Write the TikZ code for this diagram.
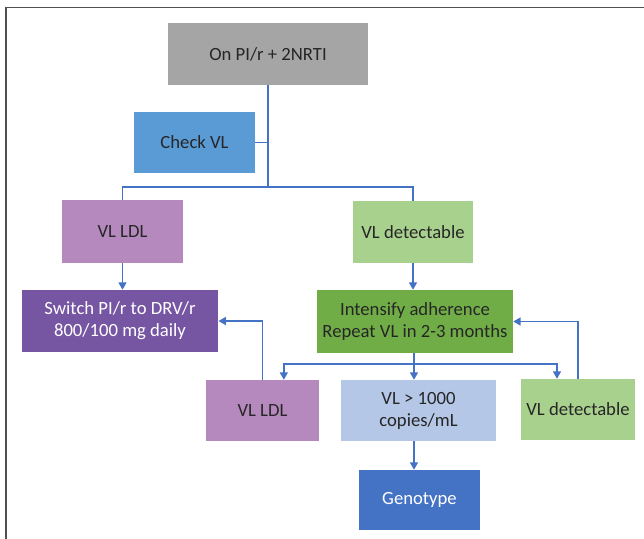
\documentclass[tikz,border=0pt]{standalone}
\usepackage{fontspec}
\setmainfont{Carlito}
\usetikzlibrary{arrows.meta}
\definecolor{cgray}{HTML}{A5A5A5}
\definecolor{ccheck}{HTML}{5B9BD5}
\definecolor{cldl}{HTML}{B589BD}
\definecolor{cdet}{HTML}{A9D18E}
\definecolor{cswitch}{HTML}{7655A3}
\definecolor{cint}{HTML}{70AD47}
\definecolor{cvl}{HTML}{B4C7E7}
\definecolor{cgeno}{HTML}{4472C4}
\definecolor{cline}{HTML}{4472C4}
\definecolor{ctext}{HTML}{262626}
\definecolor{cframe}{HTML}{505050}
\begin{document}
\begin{tikzpicture}[x=0.75pt,y=-0.75pt,
  box/.style={draw=none, inner sep=0pt, align=center, text=ctext,
    font=\fontsize{14}{16.5}\selectfont},
  conn/.style={draw=cline, line width=1pt},
  arr/.style={conn, -{Triangle[length=5.5pt,width=6pt]}}]
\useasboundingbox (0,0) rectangle (644,539);
\draw[cframe, line width=1.1pt] (6,539) -- (6,7.5) -- (644,7.5);

\node[box, fill=cgray, minimum width=150pt, minimum height=46.5pt] (top) at (268,54) {On PI/r + 2NRTI};
\node[box, fill=ccheck, minimum width=90.75pt, minimum height=45.75pt] (check) at (194.5,142.5) {Check VL};
\node[box, fill=cldl, minimum width=90.75pt, minimum height=47.25pt] (ldla) at (122.5,231.5) {VL LDL};
\node[box, fill=cdet, minimum width=90.4pt, minimum height=46.5pt] (deta) at (413,232) {VL detectable};
\node[box, fill=cswitch, text=white, minimum width=147.4pt, minimum height=46.5pt] (switch) at (120,321) {Switch PI/r to DRV/r\\800/100 mg daily};
\node[box, fill=cint, minimum width=147pt, minimum height=47.25pt] (int) at (415,321.5) {Intensify adherence\\Repeat VL in 2-3 months};
\node[box, fill=cldl, minimum width=84.75pt, minimum height=45.75pt] (ldlb) at (262.5,410.5) {VL LDL};
\node[box, fill=cvl, minimum width=116.25pt, minimum height=45.75pt] (vl) at (418.5,410.5) {VL > 1000\\copies/mL};
\node[box, fill=cdet, minimum width=85.1pt, minimum height=45.75pt] (detb) at (578,409.5) {VL detectable};
\node[box, fill=cgeno, text=white, minimum width=90.75pt, minimum height=45pt] (geno) at (419.5,500) {Genotype};

\coordinate (j0) at (268,142.5);
\coordinate (j1) at (268,187);
\coordinate (j2) at (414,364);

\draw[conn] (top.south) -- (j1);
\draw[conn] (check.east) -- (j0);
\draw[conn] (ldla.north) |- (j1) -| (deta.north);
\draw[arr] (ldla.south) -- (ldla.south |- switch.north);
\draw[arr] (deta.south) -- (deta.south |- int.north);
\draw[conn] (j2 |- int.south) -- (j2);
\draw[arr] (j2) -| ([xshift=16pt]ldlb.north);
\draw[arr] (j2) -| ([xshift=-15.75pt]detb.north);
\draw[arr] (j2) -- (j2 |- vl.north);
\draw[arr] (ldlb.north) |- (switch.east);
\draw[arr] (detb.north) |- (int.east);
\draw[arr] (j2 |- vl.south) -- (j2 |- geno.north);
\end{tikzpicture}
\end{document}
